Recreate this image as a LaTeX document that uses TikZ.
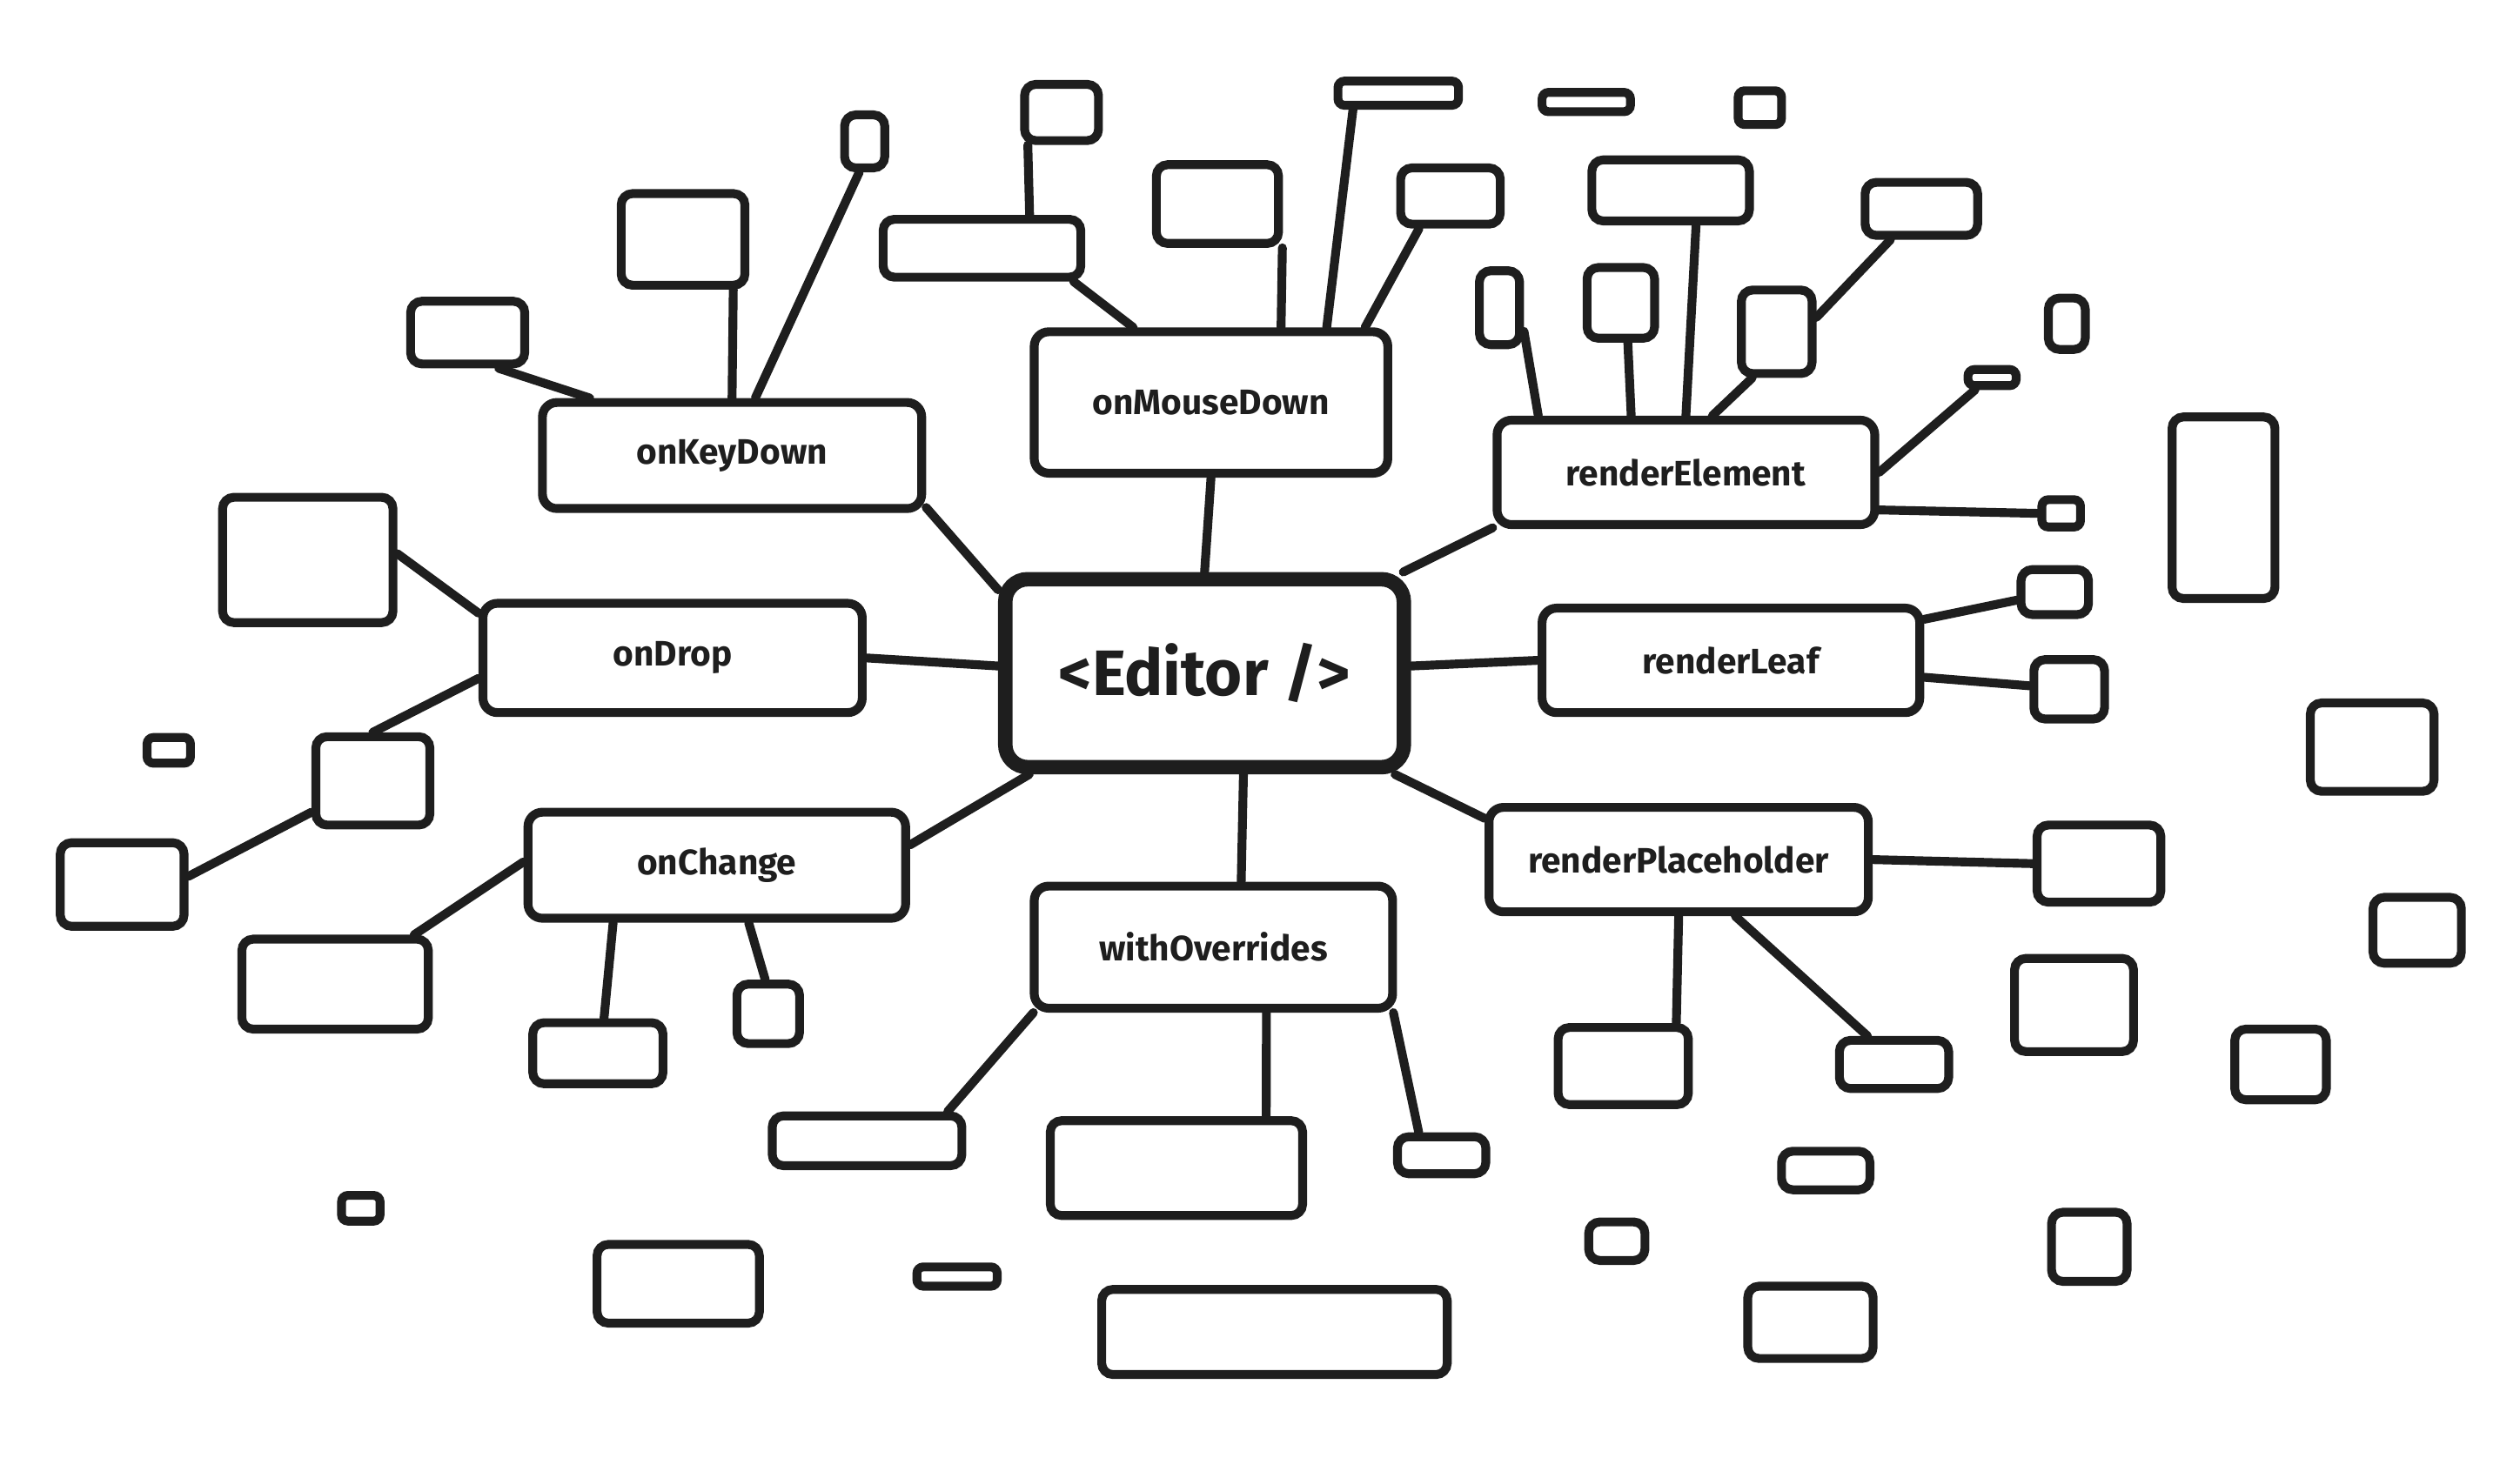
\documentclass[tikz,border=0pt]{standalone}
\usepackage{fontspec}
\setmainfont{Fira Sans}

\definecolor{ink}{RGB}{30,30,30}
\tikzset{every picture/.style={line width=5.5pt}}
\tikzset{
  hook/.style={draw=ink, text=ink, rounded corners=9pt, inner sep=0pt, font=\fontsize{22}{26}\selectfont\bfseries},
  blank/.style 2 args={draw=ink, rounded corners=7pt, inner sep=0pt, minimum width=#1, minimum height=#2},
  pill/.style 2 args={draw=ink, rounded corners=4pt, inner sep=0pt, minimum width=#1, minimum height=#2},
  link/.style={draw=ink, line cap=round},
}

\begin{document}
\begin{tikzpicture}[x=1pt,y=1pt,yscale=-1]
	\useasboundingbox (0,0) rectangle (1568,907);

	%Shape: centre
	\node[hook, line width=9pt, rounded corners=14pt, minimum width=248, minimum height=117, font=\fontsize{40}{46}\selectfont\bfseries] (edt) at (749.5,419) {<Editor />};

	% Text Node
	\node[hook, minimum width=236, minimum height=66] (kd) at (455.5,283.5) {onKeyDown};
	% Text Node
	\node[hook, minimum width=220, minimum height=88] (md) at (753.5,250.5) {onMouseDown};
	% Text Node
	\node[hook, minimum width=235, minimum height=65] (re) at (1049,294) {renderElement};
	% Text Node
	\node[hook, minimum width=236, minimum height=68] (dr) at (418.5,409.5) {onDrop};
	% Text Node
	\node[hook, minimum width=235, minimum height=65] (rl) at (1077,411) {renderLeaf};
	% Text Node
	\node[hook, minimum width=235, minimum height=66] (ch) at (446,538.5) {onChange};
	% Text Node
	\node[hook, minimum width=223, minimum height=76] (wo) at (755,589.5) {withOverrides};
	% Text Node
	\node[hook, minimum width=236, minimum height=65] (rp) at (1044.5,535) {renderPlaceholder};

	%Shape: Rectangle (onKeyDown)
	\node[blank={25}{33}] (kd1) at (538,88) {};
	\node[blank={77}{57}] (kd2) at (425,149) {};
	\node[blank={71}{39}] (kd3) at (291,207) {};
	%Shape: Rectangle (onMouseDown)
	\node[blank={46}{35}] (md1) at (660.5,70) {};
	\node[blank={123}{36}] (md2) at (611,154.5) {};
	\node[blank={76}{49}] (md3) at (757.5,127) {};
	\node[pill={75}{15}] (md4) at (870,58) {};
	\node[blank={62}{35}] (md5) at (902.5,122) {};
	%Shape: Rectangle (renderElement)
	\node[blank={98}{38}] (re1) at (1039.5,118.5) {};
	\node[blank={70}{33}] (re2) at (1195.5,130) {};
	\node[blank={25}{46}] (re3) at (933,191.5) {};
	\node[blank={42}{44}] (re4) at (1008.5,188.5) {};
	\node[blank={44}{52}] (re5) at (1105.5,206.5) {};
	\node[pill={30}{10}] (re6) at (1239.5,235) {};
	\node[pill={24}{17}] (re7) at (1282.5,319.5) {};
	%Shape: Rectangle (renderLeaf)
	\node[blank={42}{28}] (rl1) at (1278.5,368.5) {};
	\node[blank={44}{37}] (rl2) at (1287.5,429) {};
	%Shape: Rectangle (renderPlaceholder)
	\node[blank={77}{48}] (rp1) at (1306,537.5) {};
	\node[blank={81}{48}] (rp2) at (1010,663.5) {};
	\node[blank={68}{30}] (rp3) at (1178.5,662.5) {};
	%Shape: Rectangle (withOverrides)
	\node[blank={118}{31}] (wo1) at (539.5,710) {};
	\node[blank={157}{59}] (wo2) at (732,727) {};
	\node[blank={55}{23}] (wo3) at (897,719) {};
	%Shape: Rectangle (onChange)
	\node[blank={81}{38}] (ch1) at (372,655.5) {};
	\node[blank={39}{37}] (ch2) at (478,631) {};
	\node[blank={116}{56}] (ch3) at (208.5,612.5) {};
	%Shape: Rectangle (onDrop)
	\node[blank={106}{78}] (dr1) at (191.5,348.5) {};
	\node[blank={71}{55}] (dr2) at (232,486) {};
	\node[blank={77}{52}] (dr3) at (76,550.5) {};

	%Shape: Rectangle (loose)
	\node[pill={55}{12}] (fr1) at (987,63.5) {};
	\node[pill={27}{21}] (fr2) at (1095,67) {};
	\node[blank={23}{32}] (fr3) at (1286,201.5) {};
	\node[blank={64}{113}] (fr4) at (1383.5,316) {};
	\node[blank={77}{55}] (fr5) at (1476,465) {};
	\node[blank={55}{41}] (fr6) at (1504,579) {};
	\node[blank={74}{58}] (fr7) at (1290.5,625.5) {};
	\node[blank={57}{44}] (fr8) at (1419,662.5) {};
	\node[blank={55}{24}] (fr9) at (1136,728.5) {};
	\node[blank={47}{43}] (fr10) at (1300,776) {};
	\node[blank={78}{45}] (fr11) at (1126.5,823) {};
	\node[blank={35}{24}] (fr12) at (1006,772.5) {};
	\node[pill={50}{12}] (fr13) at (595.5,794.5) {};
	\node[blank={215}{53}] (fr14) at (793,829) {};
	\node[blank={101}{49}] (fr15) at (422,799) {};
	\node[pill={24}{16}] (fr16) at (224.5,752) {};
	\node[pill={27}{16}] (fr17) at (105,467) {};

	%Straight Lines (centre)
	\draw[link] (edt.north) -- (md.south);
	\draw[link] (edt.158) -- (kd.-15);
	\draw[link] (edt.27) -- (re.196);
	\draw[link] (edt.178) -- (dr.east);
	\draw[link] (edt.2) -- (rl.west);
	\draw[link] (edt.210) -- (ch.6);
	\draw[link] (edt.-69) -- (wo.67);
	\draw[link] (edt.-28) -- (rp.168);
	%Straight Lines (onKeyDown)
	\draw[link] (kd.68) -- (kd1.-100);
	\draw[link] (kd.north) -- (kd2.-45);
	\draw[link] (kd.158) -- (kd3.-49);
	%Straight Lines (onMouseDown)
	\draw[link] (md.136) -- (md2.-20);
	\draw[link] (md2.35) -- (md1.-136);
	\draw[link] (md.47) -- (md3.-34);
	\draw[link] (md.33) -- (md4.-160);
	\draw[link] (md.26) -- (md5.-134);
	%Straight Lines (renderElement)
	\draw[link] (re.north) -- (re1.-54);
	\draw[link] (re.159) -- (re3.-44);
	\draw[link] (re.134) -- (re4.-80);
	\draw[link] (re.65) -- (re5.-118);
	\draw[link] (re5.20) -- (re2.-135);
	\draw[link] (re.east) -- (re6.-144);
	\draw[link] (re.-11) -- (re7.west);
	%Straight Lines (renderLeaf)
	\draw[link] (rl.12) -- (rl1.192);
	\draw[link] (rl.-5) -- (rl2.175);
	%Straight Lines (renderPlaceholder)
	\draw[link] (rp.east) -- (rp1.west);
	\draw[link] (rp.south) -- (rp2.39);
	\draw[link] (rp.-45) -- (rp3.133);
	%Straight Lines (withOverrides)
	\draw[link] (wo.-160) -- (wo1.20);
	\draw[link] (wo.-51) -- (wo2.30);
	\draw[link] (wo.-20) -- (wo3.135);
	%Straight Lines (onChange)
	\draw[link] (ch.-151) -- (ch1.80);
	\draw[link] (ch.-61) -- (ch2.95);
	\draw[link] (ch.179) -- (ch3.32);
	%Straight Lines (onDrop)
	\draw[link] (dr.167) -- (dr1.4);
	\draw[link] (dr.186) -- (dr2.north);
	\draw[link] (dr2.-153) -- (dr3.7);

\end{tikzpicture}
\end{document}
